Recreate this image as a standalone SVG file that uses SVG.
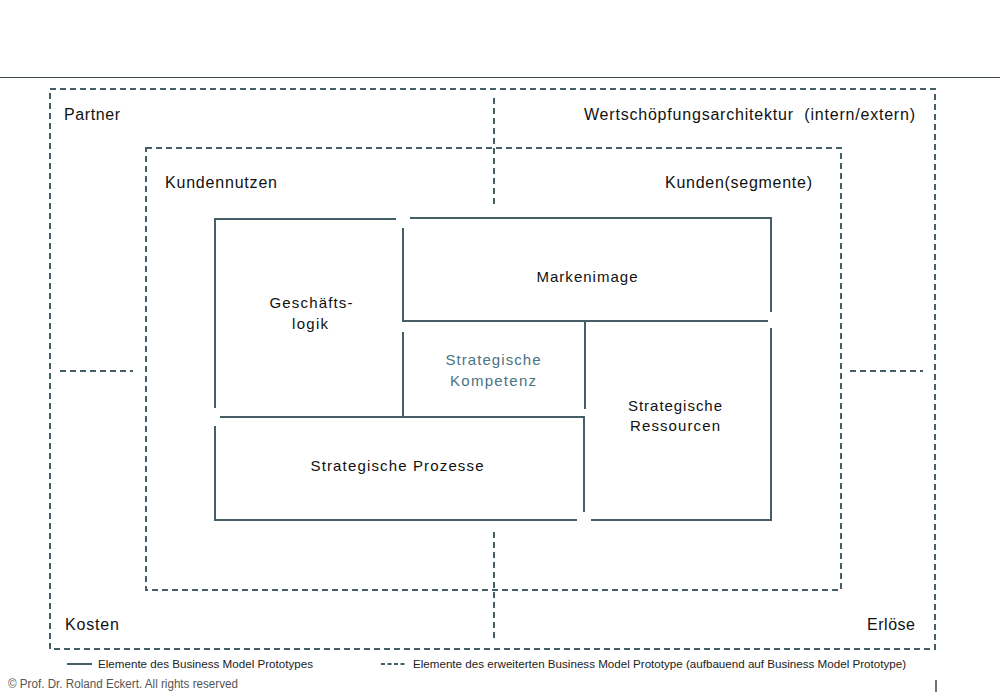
<svg xmlns="http://www.w3.org/2000/svg" width="1000" height="692" viewBox="0 0 1000 692">
<style>
.s{fill:none;stroke:#445d66;stroke-width:2}
.d{fill:none;stroke:#445d66;stroke-width:2;stroke-dasharray:6 4}
.t{font-family:"Liberation Sans",Arial,sans-serif;font-size:16px;fill:#111}
.i{font-family:"Liberation Sans",Arial,sans-serif;font-size:15px;fill:#111;text-anchor:middle}
.k{fill:#4a7383}
.l{font-family:"Liberation Sans",Arial,sans-serif;font-size:11px;fill:#222}
</style>
<rect width="1000" height="692" fill="#fff"/>
<line x1="0" y1="77.5" x2="1000" y2="77.5" stroke="#3c4b50" stroke-width="1"/>
<g id="connectors">
<rect class="d" x="50" y="89" width="885" height="560"/>
<rect class="d" x="146" y="148" width="695" height="442"/>
<line class="d" x1="494" y1="98" x2="494" y2="204"/>
<line class="d" x1="494" y1="532" x2="494" y2="638"/>
<line class="d" x1="60" y1="371" x2="133" y2="371"/>
<line class="d" x1="850" y1="371" x2="923" y2="371"/>
</g>
<g id="partner"><text class="t" x="64" y="119.5" textLength="56" lengthAdjust="spacing">Partner</text></g>
<g id="wertschoepfung"><text class="t" x="584" y="119.5" textLength="331" lengthAdjust="spacing" xml:space="preserve">Wertschöpfungsarchitektur  (intern/extern)</text></g>
<g id="kundennutzen"><text class="t" x="165" y="187.5" textLength="112" lengthAdjust="spacing">Kundennutzen</text></g>
<g id="kunden"><text class="t" x="665" y="187.5" textLength="147" lengthAdjust="spacing">Kunden(segmente)</text></g>
<g id="kosten"><text class="t" x="65" y="629.5" textLength="54" lengthAdjust="spacing">Kosten</text></g>
<g id="erloese"><text class="t" x="867" y="629.5" textLength="48" lengthAdjust="spacing">Erlöse</text></g>
<g id="geschaeftslogik">
<path class="s" d="M396 219H215V408"/>
<text class="i" x="311" y="308" textLength="83" lengthAdjust="spacing">Geschäfts-</text>
<text class="i" x="310" y="329" textLength="36" lengthAdjust="spacing">logik</text>
</g>
<g id="markenimage">
<path class="s" d="M410 218H771V312"/>
<path class="s" d="M403 228V321H768"/>
<text class="i" x="587" y="282" textLength="101" lengthAdjust="spacing">Markenimage</text>
</g>
<g id="kompetenz">
<path class="s" d="M403 332V417"/>
<path class="s" d="M585 322V409"/>
<text class="i k" x="493" y="365" textLength="95" lengthAdjust="spacing">Strategische</text>
<text class="i k" x="493" y="386" textLength="86" lengthAdjust="spacing">Kompetenz</text>
</g>
<g id="prozesse">
<path class="s" d="M220 417H584V512"/>
<path class="s" d="M215 426V520H577"/>
<text class="i" x="397" y="471" textLength="173" lengthAdjust="spacing">Strategische Prozesse</text>
</g>
<g id="ressourcen">
<path class="s" d="M771 328V520H591"/>
<text class="i" x="675" y="411" textLength="94" lengthAdjust="spacing">Strategische</text>
<text class="i" x="675" y="431" textLength="90" lengthAdjust="spacing">Ressourcen</text>
</g>
<g id="legend">
<line class="s" x1="67" y1="664" x2="92" y2="664"/>
<text class="l" x="98" y="668" textLength="215" lengthAdjust="spacingAndGlyphs">Elemente des Business Model Prototypes</text>
<line class="d" x1="381" y1="664" x2="407" y2="664" style="stroke-dasharray:4 2.5"/>
<text class="l" x="413" y="668" textLength="493" lengthAdjust="spacingAndGlyphs">Elemente des erweiterten Business Model Prototype (aufbauend auf Business Model Prototype)</text>
<text class="l" x="8" y="688" textLength="230" lengthAdjust="spacingAndGlyphs" style="fill:#555;font-size:12px">© Prof. Dr. Roland Eckert. All rights reserved</text>
<line x1="936" y1="680" x2="936" y2="692" stroke="#444" stroke-width="1.5"/>
</g>
</svg>
